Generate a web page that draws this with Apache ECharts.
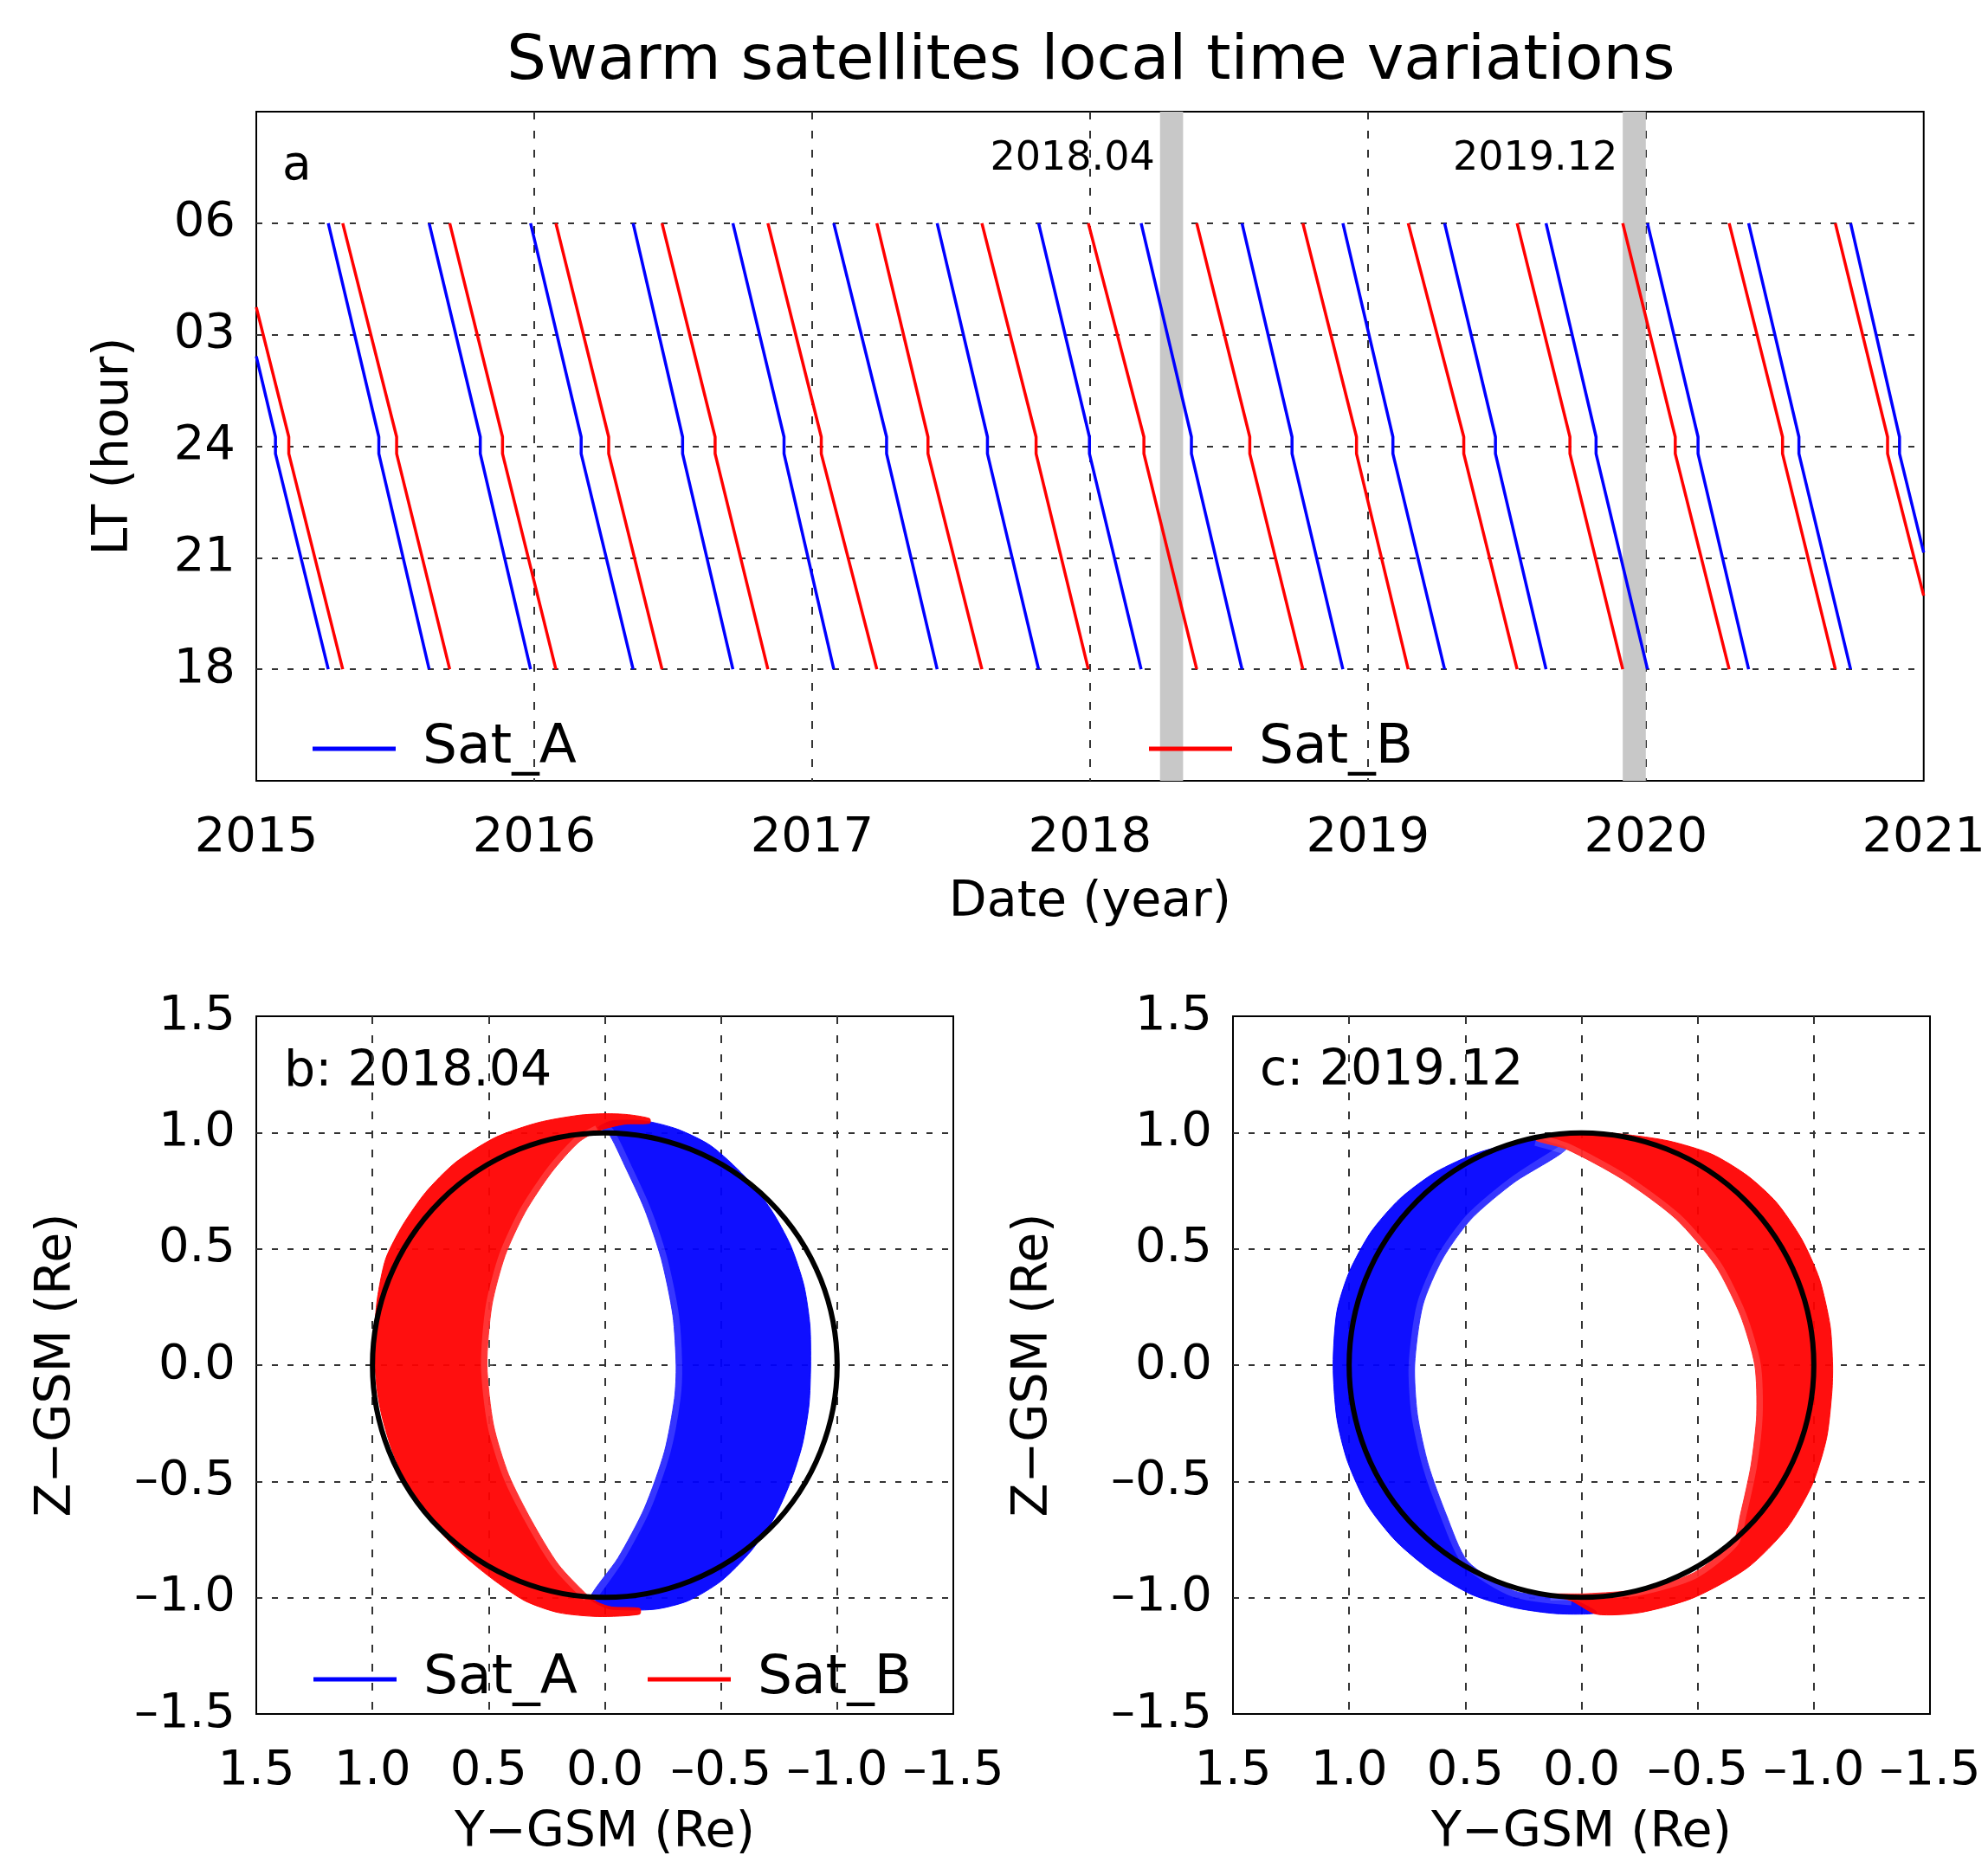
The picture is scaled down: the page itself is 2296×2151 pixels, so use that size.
<!DOCTYPE html>
<html>
<head>
<meta charset="utf-8">
<script src="https://cdn.jsdelivr.net/npm/echarts@6/dist/echarts.min.js"></script>
<style>
  html, body { margin: 0; padding: 0; background: #fff; }
  #main { width: 2296px; height: 2151px; }
</style>
</head>
<body>
<div id="main"></div>
<script>
// panel a: times (decimal year)
var yearTicks = [2015, 2016, 2017, 2018, 2019, 2020, 2021];
var ltTicks = ['18', '21', '24', '03', '06'];
var ltTop = 30, ltBottom = 18, jogHigh = 24.25, jogLow = 23.8;

// Sat_A: LT jumps 18 -> 06 at these times, crosses 24 at the others
var aStart = [2015.0, 26.42];
var aWrap = [2015.259, 2015.622, 2015.987, 2016.356, 2016.715, 2017.078, 2017.450, 2017.815,
             2018.184, 2018.547, 2018.910, 2019.276, 2019.641, 2020.006, 2020.370, 2020.737];
var aCross24 = [2015.069, 2015.441, 2015.806, 2016.169, 2016.534, 2016.899, 2017.268, 2017.631, 2017.998,
                2018.365, 2018.727, 2019.090, 2019.459, 2019.821, 2020.188, 2020.551, 2020.913];
var aEnd = [2021.0, 21.14];

// Sat_B
var bStart = [2015.0, 27.74];
var bWrap = [2015.311, 2015.696, 2016.078, 2016.460, 2016.841, 2017.233, 2017.611, 2017.994,
             2018.384, 2018.766, 2019.145, 2019.537, 2019.917, 2020.300, 2020.682];
var bCross24 = [2015.117, 2015.505, 2015.886, 2016.268, 2016.651, 2017.033, 2017.417, 2017.806,
                2018.194, 2018.575, 2018.959, 2019.345, 2019.727, 2020.106, 2020.492, 2020.870];
var bEnd = [2021.0, 19.98];

// grey periods
var bandNames = ['2018.04', '2019.12'];
var bandFrom = [2018.252, 2019.917];
var bandTo = [2018.335, 2020.0];

// panels b, c : [Y-GSM, Z-GSM] outlines of the orbit fans (Re)
var earthCenter = [0, 0];
var earthRadius = 1;
var gsmTicks = [1.5, 1.0, 0.5, 0.0, -0.5, -1.0, -1.5];

// b: 2018.04
var fanA_b_outer = [[0.029, 1.021], [-0.029, 1.05], [-0.171, 1.05], [-0.314, 1.014], [-0.457, 0.943], [-0.6, 0.814],
  [-0.714, 0.671], [-0.8, 0.514], [-0.857, 0.343], [-0.883, 0.171], [-0.886, 0], [-0.879, -0.171],
  [-0.85, -0.343], [-0.8, -0.5], [-0.729, -0.657], [-0.629, -0.8], [-0.5, -0.929], [-0.357, -1.014],
  [-0.214, -1.05], [-0.029, -1.05], [0.029, -1.029], [0.064, -1.0]];
var fanA_b_inner = [[-0.057, -0.829], [-0.171, -0.614], [-0.257, -0.371], [-0.3, -0.143], [-0.307, 0],
  [-0.293, 0.214], [-0.243, 0.457], [-0.171, 0.671], [-0.086, 0.857], [-0.014, 1.0]];

var fanB_b_outer = [[0.029, 1.007], [-0.086, 1.036], [-0.193, 1.04], [-0.193, 1.06], [-0.1, 1.077], [0, 1.081],
  [0.114, 1.074], [0.286, 1.043], [0.471, 0.979], [0.643, 0.871], [0.771, 0.743], [0.871, 0.6],
  [0.943, 0.457], [0.979, 0.286], [0.993, 0.114], [0.989, 0], [0.979, -0.114], [0.957, -0.229],
  [0.914, -0.371], [0.85, -0.514], [0.771, -0.643], [0.671, -0.757], [0.571, -0.85], [0.471, -0.929],
  [0.343, -1.014], [0.2, -1.064], [0.029, -1.081], [-0.15, -1.071], [-0.15, -1.046], [-0.029, -1.04],
  [0.029, -1.021], [0.071, -0.993]];
var fanB_b_inner = [[0.2, -0.857], [0.314, -0.671], [0.414, -0.471], [0.479, -0.257], [0.507, 0],
  [0.486, 0.257], [0.429, 0.471], [0.343, 0.657], [0.229, 0.829], [0.114, 0.957]];

// c: 2019.12
var fanA_c_outer = [[0.065, 0.929], [0.134, 0.957], [0.196, 0.974], [0.443, 0.914], [0.629, 0.829], [0.783, 0.714],
  [0.907, 0.571], [1.0, 0.4], [1.053, 0.229], [1.069, 0], [1.053, -0.229], [1.007, -0.414],
  [0.922, -0.6], [0.798, -0.757], [0.644, -0.886], [0.474, -0.986], [0.289, -1.043], [0.103, -1.069],
  [-0.066, -1.064], [0.042, -1.007]];
var fanA_c_inner = [[0.289, -0.971], [0.49, -0.843], [0.582, -0.643], [0.659, -0.429], [0.706, -0.214],
  [0.718, 0], [0.683, 0.257], [0.598, 0.457], [0.474, 0.629], [0.289, 0.786]];

var fanB_c_outer = [[0.196, 0.969], [0.011, 1.003], [-0.175, 0.993], [-0.375, 0.964], [-0.561, 0.907],
  [-0.715, 0.814], [-0.839, 0.7], [-0.947, 0.543], [-1.024, 0.371], [-1.07, 0.171], [-1.081, 0],
  [-1.078, -0.114], [-1.055, -0.314], [-0.993, -0.514], [-0.885, -0.7], [-0.715, -0.871], [-0.483, -1.0],
  [-0.252, -1.064], [-0.066, -1.071], [0.042, -1.014], [0.134, -0.986]];
var fanB_c_inner = [[-0.02, -0.983], [-0.252, -0.964], [-0.483, -0.893], [-0.653, -0.757],
  [-0.684, -0.643], [-0.73, -0.429], [-0.754, -0.214], [-0.746, 0], [-0.684, 0.214], [-0.576, 0.429],
  [-0.406, 0.629], [-0.175, 0.8], [0.065, 0.929]];

var FONT = 'DejaVu Sans';
var BLUE = '#0000ff', RED = '#ff0000';

function sawtooth(start, cross24, wraps, end) {
    var pts = [start];
    for (var k = 0; k < cross24.length; k++) {
        if (k > 0) pts.push([wraps[k - 1], ltTop]);
        pts.push([cross24[k], jogHigh], [cross24[k], jogLow]);
        if (k < wraps.length) {
            pts.push([wraps[k], ltBottom]);
            pts.push([wraps[k], '-']); // break the line at the wrap
        } else {
            pts.push(end);
        }
    }
    return pts;
}

function fanSeries(name, color, idx, outer, inner) {
    return {
        type: 'custom', name: name, xAxisIndex: idx, yAxisIndex: idx,
        data: [[0, 0]], silent: true, clip: true,
        itemStyle: { color: color },
        renderItem: function (params, api) {
            var toPx = function (p) { return api.coord(p); };
            var edge = [outer[outer.length - 1]].concat(inner, [outer[0]]);
            return {
                type: 'group',
                children: [
                    {
                        type: 'polygon',
                        shape: { points: outer.concat(inner).map(toPx), smooth: 0.25 },
                        style: { fill: color, stroke: color, lineWidth: 1, opacity: 0.94 }
                    },
                    {
                        // sparser orbits along the inner edge look a bit lighter
                        type: 'polyline',
                        shape: { points: edge.map(toPx), smooth: 0.25 },
                        style: { fill: null, stroke: 'rgba(255,255,255,0.16)', lineWidth: 14 }
                    }
                ]
            };
        }
    };
}

function earthSeries(idx) {
    return {
        type: 'custom', xAxisIndex: idx, yAxisIndex: idx, data: [[0, 0]], silent: true, z: 5,
        renderItem: function (params, api) {
            var c = api.coord(earthCenter);
            var e = api.coord([earthRadius, 0]);
            return {
                type: 'circle',
                shape: { cx: c[0], cy: c[1], r: Math.abs(e[0] - c[0]) },
                style: { fill: 'none', stroke: '#000', lineWidth: 6 }
            };
        }
    };
}

var gsmFmt = function (v) { return v.toFixed(1).replace('-', '\u2013'); };
var dashY = { show: true, showMinLine: false, showMaxLine: false, lineStyle: { color: '#333', width: 2, type: [7, 11] } };
var dashX = { show: true, showMinLine: false, showMaxLine: false, lineStyle: { color: '#333', width: 2, type: [9, 13] } };
var labelStyle = { color: '#000', fontSize: 56, fontFamily: FONT, showMinLabel: true, showMaxLabel: true, hideOverlap: false };
var nameStyle = { color: '#000', fontSize: 57, fontFamily: FONT };

function gsmX(idx) {
    return {
        type: 'value', gridIndex: idx, min: gsmTicks[6], max: gsmTicks[0], interval: 0.5, inverse: true,
        axisLine: { show: false }, axisTick: { show: false }, splitLine: dashX,
        axisLabel: Object.assign({ margin: 38, formatter: gsmFmt }, labelStyle),
        name: 'Y\u2212GSM (Re)', nameLocation: 'middle', nameGap: 110, nameTextStyle: nameStyle
    };
}
function gsmY(idx) {
    return {
        type: 'value', gridIndex: idx, min: gsmTicks[6], max: gsmTicks[0], interval: 0.5,
        axisLine: { show: false }, axisTick: { show: false }, splitLine: dashY,
        axisLabel: Object.assign({ margin: 24, formatter: gsmFmt }, labelStyle),
        name: 'Z\u2212GSM (Re)', nameLocation: 'middle', nameGap: 201, nameRotate: 90, nameTextStyle: nameStyle
    };
}

function legendAt(name, color, left, centerY) {
    return {
        data: [{ name: name, icon: 'rect', itemStyle: { color: color } }],
        left: left, top: centerY - 32, padding: 0, selectedMode: false,
        itemWidth: 96, itemHeight: 5,
        textStyle: { color: '#000', fontSize: 63, fontFamily: FONT, lineHeight: 64, padding: [0, 0, 0, 26] }
    };
}

var chart = echarts.init(document.getElementById('main'));
var option = {
    animation: false,
    backgroundColor: '#fff',
    grid: [
        { left: 296, top: 129, width: 1933, height: 773, show: true, borderColor: '#000', borderWidth: 2 },
        { left: 296, top: 1174, width: 805, height: 806, show: true, borderColor: '#000', borderWidth: 2 },
        { left: 1424, top: 1174, width: 805, height: 806, show: true, borderColor: '#000', borderWidth: 2 }
    ],
    xAxis: [
        {
            type: 'value', gridIndex: 0, min: yearTicks[0], max: yearTicks[yearTicks.length - 1], interval: 1,
            axisLine: { show: false }, axisTick: { show: false }, splitLine: dashX,
            axisLabel: Object.assign({ margin: 38, formatter: function (v) { return String(v); } }, labelStyle),
            name: 'Date (year)', nameLocation: 'middle', nameGap: 113, nameTextStyle: nameStyle
        },
        gsmX(1), gsmX(2)
    ],
    yAxis: [
        {
            type: 'value', gridIndex: 0, min: 15, max: 33, interval: 3,
            axisLine: { show: false }, axisTick: { show: false }, splitLine: dashY,
            axisLabel: Object.assign({
                margin: 24,
                formatter: function (v) {
                    var i = (v - 18) / 3;
                    return (i >= 0 && i < ltTicks.length) ? ltTicks[i] : '';
                }
            }, labelStyle),
            name: 'LT (hour)', nameLocation: 'middle', nameGap: 135, nameRotate: 90, nameTextStyle: nameStyle
        },
        gsmY(1), gsmY(2)
    ],
    legend: [
        legendAt('Sat_A', BLUE, 361, 865),
        legendAt('Sat_B', RED, 1327, 865),
        legendAt('Sat_A', BLUE, 362, 1940),
        legendAt('Sat_B', RED, 748, 1940)
    ],
    graphic: [
        { type: 'text', x: 1260, y: 72, style: { text: 'Swarm satellites local time variations', font: '72px "DejaVu Sans"', fill: '#000', align: 'center', verticalAlign: 'middle' } },
        { type: 'text', x: 326, y: 193, style: { text: 'a', font: '55px "DejaVu Sans"', fill: '#000', align: 'left', verticalAlign: 'middle' } },
        { type: 'text', x: 328, y: 1239, style: { text: 'b: 2018.04', font: '57px "DejaVu Sans"', fill: '#000', align: 'left', verticalAlign: 'middle' } },
        { type: 'text', x: 1455, y: 1238, style: { text: 'c: 2019.12', font: '57px "DejaVu Sans"', fill: '#000', align: 'left', verticalAlign: 'middle' } }
    ],
    series: [
        {
            type: 'line', name: 'bands', xAxisIndex: 0, yAxisIndex: 0, data: [], z: 1, silent: true,
            markArea: {
                silent: true,
                itemStyle: { color: '#c8c8c8', opacity: 1 },
                label: { show: true, position: [-6, 32], align: 'right', color: '#000', fontSize: 46, fontFamily: FONT },
                data: bandNames.map(function (n, i) { return [{ name: n, xAxis: bandFrom[i] }, { xAxis: bandTo[i] }]; })
            }
        },
        {
            type: 'line', name: 'Sat_A', xAxisIndex: 0, yAxisIndex: 0, showSymbol: false, connectNulls: false,
            data: sawtooth(aStart, aCross24, aWrap, aEnd), color: BLUE, lineStyle: { color: BLUE, width: 3.5 }
        },
        {
            type: 'line', name: 'Sat_B', xAxisIndex: 0, yAxisIndex: 0, showSymbol: false, connectNulls: false,
            data: sawtooth(bStart, bCross24, bWrap, bEnd), color: RED, lineStyle: { color: RED, width: 3.5 }
        },
        fanSeries('Sat_A', BLUE, 1, fanA_b_outer, fanA_b_inner),
        fanSeries('Sat_B', RED, 1, fanB_b_outer, fanB_b_inner),
        earthSeries(1),
        fanSeries('Sat_A', BLUE, 2, fanA_c_outer, fanA_c_inner),
        fanSeries('Sat_B', RED, 2, fanB_c_outer, fanB_c_inner),
        earthSeries(2)
    ]
};
chart.setOption(option);
</script>
</body>
</html>
